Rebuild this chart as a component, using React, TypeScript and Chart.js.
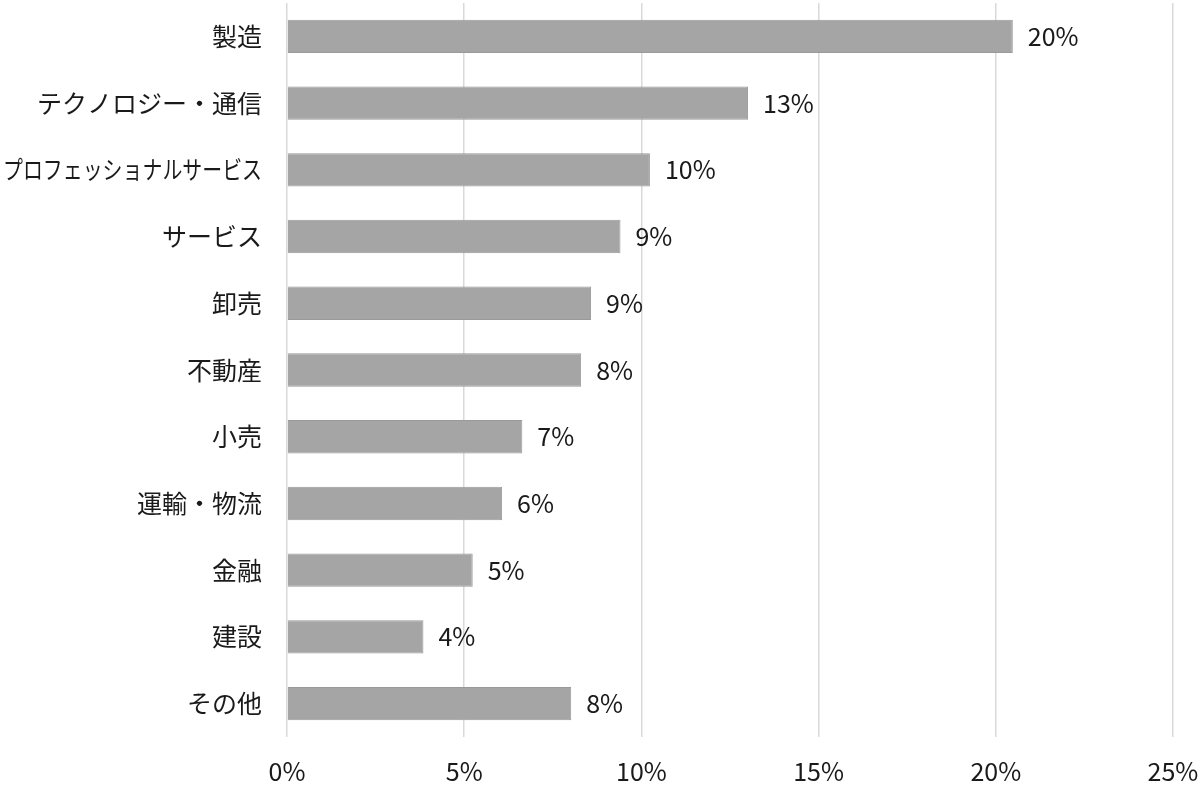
import React, { useEffect, useRef } from 'react';
import { Chart, registerables } from 'chart.js';

Chart.register(...registerables);

// Industry categories (top to bottom)
const categories = [
  '製造',
  'テクノロジー・通信',
  'プロフェッショナルサービス',
  'サービス',
  '卸売',
  '不動産',
  '小売',
  '運輸・物流',
  '金融',
  '建設',
  'その他',
];

// Share in percent
const shares = [20.48, 13.01, 10.24, 9.41, 8.58, 8.3, 6.64, 6.07, 5.24, 3.85, 8.02];

// Labels printed next to the bars
const shareLabels = ['20%', '13%', '10%', '9%', '9%', '8%', '7%', '6%', '5%', '4%', '8%'];

const FONT = '"Noto Sans CJK JP", "Noto Sans", sans-serif';
const TEXT_COLOR = '#1a1a1a';

// Draws the value labels to the right of each bar
const barLabelPlugin = {
  id: 'barLabels',
  afterDatasetsDraw(chart: any) {
    const ctx = chart.ctx;
    const meta = chart.getDatasetMeta(0);
    ctx.save();
    ctx.font = `25px ${FONT}`;
    ctx.fillStyle = TEXT_COLOR;
    ctx.textAlign = 'left';
    ctx.textBaseline = 'middle';
    meta.data.forEach((bar: any, i: number) => {
      ctx.fillText(shareLabels[i], bar.x + 15, bar.y);
    });
    ctx.restore();
  },
};

// Category labels drawn by hand so the long one can be squeezed to fit
const categoryLabelPlugin = {
  id: 'categoryLabels',
  afterDraw(chart: any) {
    const ctx = chart.ctx;
    const yScale = chart.scales.y;
    const right = chart.chartArea.left - 25;
    ctx.save();
    ctx.font = `25px ${FONT}`;
    ctx.fillStyle = TEXT_COLOR;
    ctx.textAlign = 'right';
    ctx.textBaseline = 'middle';
    categories.forEach((label, i) => {
      ctx.fillText(label, right, yScale.getPixelForTick(i), right - 3);
    });
    ctx.restore();
  },
};

// no extra room for half-labels at the ends of the axes
const noEdgePadding = (scale: any) => {
  scale.paddingLeft = 0;
  scale.paddingRight = 0;
  scale.paddingTop = 0;
  scale.paddingBottom = 0;
};

const App: React.FC = () => {
  const chartRef = useRef<HTMLCanvasElement | null>(null);
  const chartInstance = useRef<Chart | null>(null);

  useEffect(() => {
    if (!chartRef.current) return;
    const ctx = chartRef.current.getContext('2d');
    if (!ctx) return;

    chartInstance.current = new Chart(ctx, {
      type: 'bar',
      data: {
        labels: categories,
        datasets: [
          {
            data: shares,
            backgroundColor: '#a5a5a5',
            borderColor: '#999999',
            borderWidth: 1,
            barPercentage: 0.5,
            categoryPercentage: 1,
          },
        ],
      },
      options: {
        indexAxis: 'y',
        responsive: true,
        maintainAspectRatio: false,
        animation: false,
        layout: {
          padding: { top: 3, right: 27, bottom: 0, left: 0 },
        },
        plugins: {
          legend: { display: false },
          tooltip: { enabled: false },
        },
        scales: {
          x: {
            min: 0,
            max: 25,
            ticks: {
              stepSize: 5,
              padding: 19,
              color: TEXT_COLOR,
              font: { family: FONT, size: 25 },
              callback: (value: any) => value + '%',
            },
            grid: {
              color: '#d9d9d9',
              lineWidth: 1.5,
              drawTicks: false,
            },
            border: { display: false },
            afterFit: (scale: any) => {
              scale.height = 50;
              noEdgePadding(scale);
            },
          },
          y: {
            ticks: { display: false },
            grid: { display: false, drawTicks: false },
            border: { display: false },
            afterFit: (scale: any) => {
              scale.width = 287;
              noEdgePadding(scale);
            },
          },
        },
      },
      plugins: [barLabelPlugin, categoryLabelPlugin],
    });

    return () => {
      if (chartInstance.current) {
        chartInstance.current.destroy();
        chartInstance.current = null;
      }
    };
  }, []);

  return (
    <div style={{ position: 'fixed', left: 0, top: 0, width: '1200px', height: '787px', background: '#fff' }}>
      <canvas ref={chartRef} />
    </div>
  );
};

export default App;
